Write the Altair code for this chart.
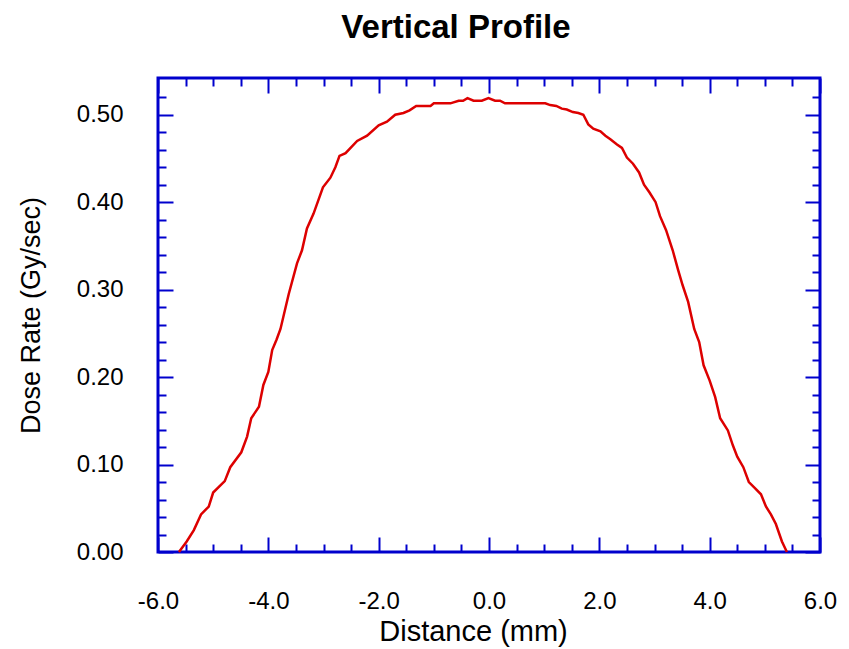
import altair as alt
import pandas as pd

# ---- data ----
distance = [-5.62, -5.48, -5.35, -5.22, -5.08, -5.00, -4.79, -4.69, -4.49, -4.385,
            -4.31, -4.17, -4.09, -4.00, -3.93, -3.85, -3.78, -3.63, -3.48, -3.39,
            -3.30, -3.18, -3.01, -2.875, -2.785, -2.71, -2.60, -2.39, -2.21, -2.00,
            -1.85, -1.70, -1.55, -1.44, -1.32, -1.06, -1.00, -0.70, -0.55, -0.47,
            -0.39, -0.28, -0.13, -0.01, 0.11, 0.20, 0.29, 1.02, 1.11, 1.22,
            1.32, 1.41, 1.52, 1.62, 1.71, 1.80, 1.89, 2.02, 2.11, 2.20,
            2.32, 2.41, 2.50, 2.61, 2.72, 2.81, 2.91, 3.02, 3.10, 3.21,
            3.33, 3.43, 3.51, 3.61, 3.72, 3.81, 3.89, 4.00, 4.10, 4.19,
            4.33, 4.42, 4.50, 4.61, 4.71, 4.82, 4.93, 5.02, 5.11, 5.20,
            5.31, 5.40]
dose = [0.000, 0.012, 0.025, 0.043, 0.052, 0.068, 0.081, 0.097, 0.114, 0.132,
        0.153, 0.166, 0.191, 0.206, 0.231, 0.243, 0.255, 0.295, 0.330, 0.345,
        0.370, 0.387, 0.417, 0.428, 0.440, 0.453, 0.456, 0.470, 0.476, 0.488,
        0.492, 0.500, 0.502, 0.505, 0.510, 0.510, 0.513, 0.513, 0.516, 0.516,
        0.519, 0.516, 0.516, 0.519, 0.516, 0.516, 0.513, 0.513, 0.511, 0.510,
        0.507, 0.506, 0.503, 0.502, 0.500, 0.489, 0.484, 0.481, 0.476, 0.472,
        0.466, 0.462, 0.451, 0.444, 0.434, 0.420, 0.411, 0.400, 0.384, 0.368,
        0.345, 0.322, 0.305, 0.286, 0.255, 0.240, 0.2135, 0.196, 0.177, 0.153,
        0.139, 0.122, 0.109, 0.097, 0.080, 0.073, 0.066, 0.052, 0.043, 0.032,
        0.012, 0.000]

x_major = [-6, -4, -2, 0, 2, 4, 6]
x_minor = [-5.5, -5, -4.5, -3.5, -3, -2.5, -1.5, -1, -0.5,
           0.5, 1, 1.5, 2.5, 3, 3.5, 4.5, 5, 5.5]
y_major = [0.0, 0.1, 0.2, 0.3, 0.4, 0.5]
y_minor = [0.02, 0.04, 0.06, 0.08, 0.12, 0.14, 0.16, 0.18,
           0.22, 0.24, 0.26, 0.28, 0.32, 0.34, 0.36, 0.38,
           0.42, 0.44, 0.46, 0.48, 0.52]

df = pd.DataFrame({"distance": distance, "dose": dose})

BLUE = "#0000CD"
RED = "#DD0000"
FONT = "Liberation Sans"

xs = alt.Scale(domain=[-6, 6], nice=False, zero=False)
ys = alt.Scale(domain=[0, 0.542], nice=False, zero=False)


def tick_axis(orient, values, size):
    return alt.Axis(orient=orient, values=values, labels=False, domain=False,
                    grid=False, ticks=True, tickSize=size, tickWidth=2,
                    tickColor=BLUE, offset=-size, title=None)


base = alt.Chart(df)

line = base.mark_line(color=RED, strokeWidth=2.5).encode(
    x=alt.X("distance:Q", scale=xs,
            axis=alt.Axis(orient="bottom", values=x_major,
                          labelExpr="datum.value < 0 ? '-' + format(-datum.value, '.1f') : format(datum.value, '.1f')",
                          ticks=False, domain=False, grid=False,
                          labelFlush=False, labelOverlap=False,
                          labelFont=FONT, labelFontSize=24, labelColor="black",
                          labelPadding=56, labelBaseline="alphabetic",
                          title="Distance (mm)", titleFont=FONT, titleFontSize=29,
                          titleFontWeight="normal", titleColor="black",
                          titleBaseline="alphabetic", titleAlign="center",
                          titleX=315, titleY=88)),
    y=alt.Y("dose:Q", scale=ys,
            axis=alt.Axis(orient="left", values=y_major, format=".2f",
                          ticks=False, domain=False, grid=False,
                          labelFlush=False, labelOverlap=False,
                          labelFont=FONT, labelFontSize=24, labelColor="black",
                          labelPadding=35,
                          title="Dose Rate (Gy/sec)", titleFont=FONT, titleFontSize=27,
                          titleFontWeight="normal", titleColor="black",
                          titleBaseline="middle", titleX=-127)),
)


def tick_layer(xo, yo, xv, yv, size):
    return base.mark_point(opacity=0).encode(
        x=alt.X("distance:Q", scale=xs, axis=tick_axis(xo, xv, size)),
        y=alt.Y("dose:Q", scale=ys, axis=tick_axis(yo, yv, size)),
    )


chart = alt.layer(
    line,
    tick_layer("bottom", "left", x_major, y_major, 15),
    tick_layer("bottom", "left", x_minor, y_minor, 8),
    tick_layer("top", "right", x_major, y_major, 15),
    tick_layer("top", "right", x_minor, y_minor, 8),
).resolve_axis(x="independent", y="independent").properties(
    width=662, height=474,
    title=alt.TitleParams("Vertical Profile", font=FONT, fontSize=33,
                          fontWeight="bold", color="black", anchor="middle",
                          dx=-33, offset=32),
    autosize=alt.AutoSizeParams(type="none"),
    padding={"left": 150, "top": 70, "right": 20, "bottom": 96},
).configure_view(stroke=BLUE, strokeWidth=3)

chart.save("out.html", embed_options={"renderer": "svg", "actions": False})
